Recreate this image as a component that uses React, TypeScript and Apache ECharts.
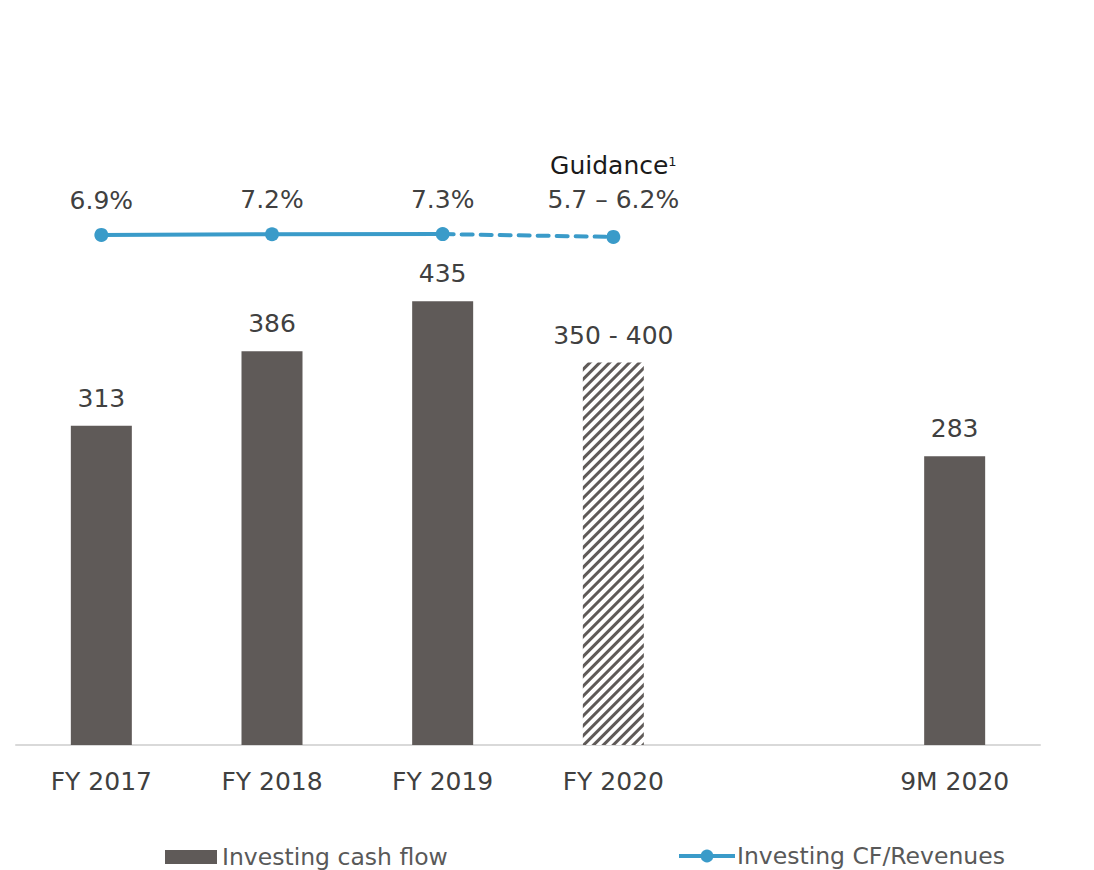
import React, { useEffect, useRef } from "react";
import * as echarts from "echarts";

const categories = ["FY 2017", "FY 2018", "FY 2019", "FY 2020", "", "9M 2020"];
const cashFlow = [313, 386, 435, 375, null, 283];
const cashFlowLabels = ["313", "386", "435", "350 - 400", "", "283"];
const ratioActual = [6.9, 7.2, 7.3, null, null, null];
const ratioGuidance = [null, null, 7.3, 5.95, null, null];
const ratioLabels = ["6.9%", "7.2%", "7.3%", "5.7 – 6.2%", "", ""];
const guidanceTitle = "Guidance";

const FONT = "'DejaVu Sans', sans-serif";
const BAR = "#5f5a58";
const BLUE = "#3a9bc9";
const TXT = "#404040";

export default function App() {
  const ref = useRef<HTMLDivElement>(null);
  useEffect(() => {
    const chart = echarts.init(ref.current!, null, { renderer: "svg" });
    chart.setOption({
      animation: false,
      textStyle: { fontFamily: FONT },
      grid: { left: 16, right: 54, top: 31, bottom: 125, containLabel: false },
      legend: [
        {
          data: ["Investing cash flow"],
          left: 165,
          top: 845,
          padding: 0,
          itemWidth: 52,
          itemHeight: 14,
          itemGap: 6,
          icon: "rect",
          textStyle: { fontSize: 23.5, color: "#595959", fontFamily: FONT, padding: [0, 0, 0, 0] },
        },
        {
          data: ["Investing CF/Revenues"],
          left: 677,
          top: 844,
          padding: 0,
          itemWidth: 56,
          itemHeight: 16,
          lineStyle: { width: 4 },
          textStyle: { fontSize: 23.5, color: "#595959", fontFamily: FONT, padding: [0, 0, 0, -3] },
        },
      ],
      xAxis: {
        type: "category",
        data: categories,
        axisLine: { lineStyle: { color: "#d9d9d9", width: 2 } },
        axisTick: { show: false },
        axisLabel: { fontSize: 25, color: TXT, margin: 24, fontFamily: FONT },
      },
      yAxis: [
        { type: "value", min: 0, max: 700, show: false, splitLine: { show: false } },
        { type: "value", min: -236, max: 104, show: false, splitLine: { show: false } },
      ],
      series: [
        {
          name: "Investing cash flow",
          type: "bar",
          barWidth: 61,
          itemStyle: { color: BAR },
          label: {
            show: true,
            position: "top",
            distance: 15,
            fontSize: 25,
            color: TXT,
            fontFamily: FONT,
            formatter: (p: any) => cashFlowLabels[p.dataIndex],
          },
          data: cashFlow.map((v, i) =>
            v == null
              ? "-"
              : i === 3
              ? {
                  value: v,
                  itemStyle: {
                    color: "#ffffff",
                    decal: {
                      symbol: "rect",
                      symbolSize: 1,
                      color: BAR,
                      backgroundColor: "#ffffff",
                      dashArrayX: [1, 0],
                      dashArrayY: [3, 3.5],
                      rotation: -Math.PI / 4,
                    },
                  },
                }
              : v
          ),
        },
        {
          name: "Investing CF/Revenues",
          type: "line",
          yAxisIndex: 1,
          symbol: "circle",
          symbolSize: 14,
          itemStyle: { color: BLUE },
          lineStyle: { color: BLUE, width: 4 },
          label: {
            show: true,
            position: "top",
            distance: 15,
            fontSize: 25,
            color: TXT,
            fontFamily: FONT,
            formatter: (p: any) => ratioLabels[p.dataIndex],
          },
          data: ratioActual.map((v) => (v == null ? "-" : v)),
        },
        {
          name: "guidance",
          type: "line",
          yAxisIndex: 1,
          symbol: "circle",
          symbolSize: 14,
          itemStyle: { color: BLUE },
          lineStyle: { color: BLUE, width: 4, type: [11, 8], cap: "round" },
          label: {
            show: true,
            position: "top",
            distance: 14,
            fontFamily: FONT,
            formatter: (p: any) =>
              p.dataIndex === 3
                ? "{g|" + guidanceTitle + "}{s|1}\n{v|" + ratioLabels[3] + "}"
                : "",
            rich: {
              g: { fontSize: 25, color: "#1a1a1a", lineHeight: 36, fontFamily: FONT },
              s: { fontSize: 13, color: "#1a1a1a", lineHeight: 36, padding: [0, 0, 9, 0], fontFamily: FONT },
              v: { fontSize: 25, color: TXT, lineHeight: 32, fontFamily: FONT },
            },
          },
          data: ratioGuidance.map((v, i) =>
            v == null ? "-" : i === 2 ? { value: v, symbol: "none", label: { show: false } } : v
          ),
        },
      ],
    });
    return () => chart.dispose();
  }, []);
  return <div ref={ref} style={{ width: 1094, height: 870, marginTop: -8, marginLeft: -8 }} />;
}
